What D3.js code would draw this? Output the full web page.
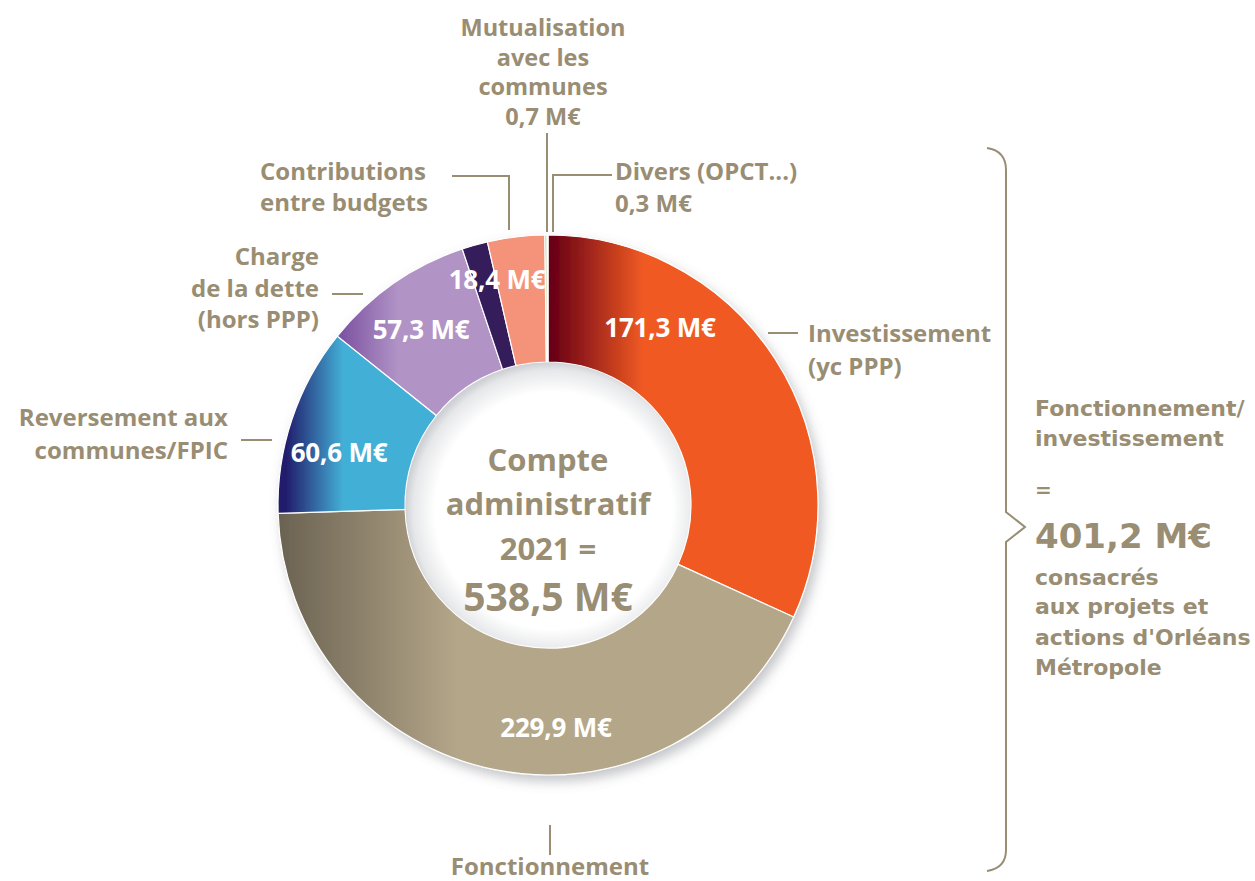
<!DOCTYPE html>
<html>
<head>
<meta charset="utf-8">
<script src="https://cdn.jsdelivr.net/npm/d3@7"></script>
<style>
  body { margin: 0; background: #fff; }
  svg { display: block; }
  .lbl { font-family: "Open Sans", "Noto Sans", sans-serif; font-weight: 700; fill: #998d73; }
  .val { font-family: "Open Sans", "Noto Sans", sans-serif; font-weight: 700; fill: #fff; }
  .side { font-family: "DejaVu Sans", sans-serif; font-weight: 700; fill: #998d73; }
</style>
</head>
<body>
<div id="chart"></div>
<script>
// slices, clockwise from the top
var sliceNames = ["Investissement", "Fonctionnement", "Reversement", "Charge de la dette", "Charge de la dette (part)", "Contributions", "Mutualisation", "Divers"];
var sliceValues = [171.3, 229.9, 60.6, 49.0, 8.3, 18.4, 0.7, 0.3];
var valueLabels = ["171,3 M€", "229,9 M€", "60,6 M€", "57,3 M€", "18,4 M€"];
var totalLabel = "538,5 M€";
var sideTotal = "401,2 M€";

var width = 1255, height = 881;
var cx = 548, cy = 505, outerR = 270, innerR = 143;
var ink = "#998d73";

var svg = d3.select("#chart").append("svg").attr("width", width).attr("height", height);
var defs = svg.append("defs");

var shadow = defs.append("filter").attr("id", "shadow").attr("x", "-20%").attr("y", "-20%").attr("width", "140%").attr("height", "140%");
shadow.append("feDropShadow").attr("dx", 4).attr("dy", 6).attr("stdDeviation", 6)
      .attr("flood-color", "#6b6f78").attr("flood-opacity", 0.4);

// horizontal gradients, x relative to the ring centre
function grad(id, x1, x2, c1, c2) {
    var g = defs.append("linearGradient").attr("id", id).attr("gradientUnits", "userSpaceOnUse")
                .attr("x1", x1).attr("x2", x2).attr("y1", 0).attr("y2", 0);
    g.append("stop").attr("offset", 0).attr("stop-color", c1);
    g.append("stop").attr("offset", 1).attr("stop-color", c2);
    return "url(#" + id + ")";
}

var fills = [
    grad("g0", 5, 95, "#6a0016", "#f05a22"),
    grad("g1", -outerR, -90, "#6a6251", "#b4a689"),
    grad("g2", -outerR + 8, -205, "#221d6c", "#43afd6"),
    grad("g3", -210, -150, "#7a50a0", "#b193c6"),
    "#341c5a",
    "#f4937a",
    "#9fcb83",
    "#1a1a1a"
];

var pie = d3.pie().sort(null).value(function(d) { return d; });
var arc = d3.arc().innerRadius(innerR).outerRadius(outerR);

var ring = svg.append("g").attr("transform", "translate(" + cx + "," + cy + ")");
var donut = ring.append("g").attr("filter", "url(#shadow)");
donut.selectAll("path")
     .data(pie(sliceValues)).enter().append("path")
     .attr("d", arc)
     .attr("fill", function(d, i) { return fills[i]; })
     .attr("stroke", "#fff")
     .attr("stroke-width", 1.2);

// soft shading inside the hole
var hole = defs.append("radialGradient").attr("id", "hole").attr("cx", "52%").attr("cy", "52%").attr("r", "52%");
hole.append("stop").attr("offset", 0.8).attr("stop-color", "#ffffff");
hole.append("stop").attr("offset", 0.95).attr("stop-color", "#e6e7e9");
hole.append("stop").attr("offset", 1).attr("stop-color", "#cfd1d5");
ring.append("circle").attr("r", innerR - 0.5).attr("fill", "url(#hole)");

// white values inside the ring
var valuePos = [[660, 328], [556, 728], [339, 453], [421, 330], [497, 280]];
svg.selectAll("text.val")
   .data(valueLabels).enter().append("text")
   .attr("class", "val")
   .attr("x", function(d, i) { return valuePos[i][0]; })
   .attr("y", function(d, i) { return valuePos[i][1]; })
   .attr("dy", "0.35em")
   .attr("text-anchor", "middle")
   .attr("font-size", 26)
   .attr("letter-spacing", -0.2)
   .text(function(d) { return d; });

// centre title
var centre = svg.append("g").attr("class", "lbl").attr("text-anchor", "middle");
[["Compte", 460, 31], ["administratif", 504, 31], ["2021 =", 549, 31], [totalLabel, 597, 39]].forEach(function(r) {
    centre.append("text").attr("x", cx).attr("y", r[1]).attr("dy", "0.35em").attr("font-size", r[2]).text(r[0]);
});

// outer labels
function block(lines, x, y0, step, anchor, size) {
    var t = svg.append("g").attr("class", "lbl").attr("text-anchor", anchor);
    lines.forEach(function(s, i) {
        t.append("text").attr("x", x).attr("y", y0 + i * step).attr("dy", "0.35em").attr("font-size", size).text(s);
    });
}
block(["Mutualisation", "avec les", "communes", "0,7 M€"], 543, 28, 29.5, "middle", 23.5);
block(["Divers (OPCT...)", "0,3 M€"], 615, 172, 32, "start", 24);
block(["Contributions", "entre budgets"], 260, 172, 31, "start", 24);
block(["Charge", "de la dette", "(hors PPP)"], 319, 257, 31.5, "end", 24);
block(["Reversement aux", "communes/FPIC"], 228, 418, 33, "end", 24);
block(["Investissement", "(yc PPP)"], 808, 334, 33, "start", 24);
block(["Fonctionnement"], 550, 867, 0, "middle", 24);

// leader lines
var leaders = [
    [[547, 133], [547, 232]],
    [[612, 175], [553, 175], [553, 232]],
    [[452, 176], [509, 176], [509, 230]],
    [[332, 294], [363, 294]],
    [[241, 440], [272, 440]],
    [[768, 333], [798, 333]],
    [[550, 825], [550, 855]]
];
svg.selectAll("path.leader")
   .data(leaders).enter().append("path")
   .attr("class", "leader")
   .attr("d", d3.line())
   .attr("fill", "none")
   .attr("stroke", ink)
   .attr("stroke-width", 2);

// brace on the right
svg.append("path")
   .attr("d", "M987,148 C1000,150 1006,158 1006,170 L1006,512 L1025,527 L1006,542 L1006,850 C1006,862 1000,869 987,871")
   .attr("fill", "none").attr("stroke", ink).attr("stroke-width", 2);

var side = svg.append("g").attr("class", "side");
[["Fonctionnement/", 408, 22], ["investissement", 438, 22], ["=", 490, 20], [sideTotal, 536, 34],
 ["consacrés", 577, 22], ["aux projets et", 606, 22], ["actions d'Orléans", 637, 22], ["Métropole", 667, 22]].forEach(function(r) {
    side.append("text").attr("x", 1035).attr("y", r[1]).attr("dy", "0.35em").attr("font-size", r[2]).text(r[0]);
});
</script>
</body>
</html>
